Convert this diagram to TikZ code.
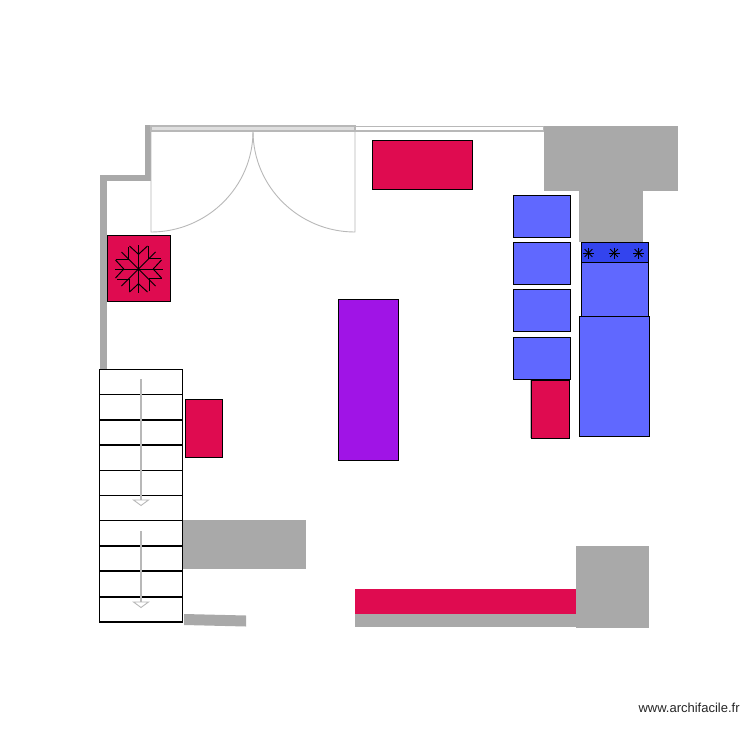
\documentclass[tikz,border=0pt]{standalone}
\usepackage{fontspec}
\setmainfont{Liberation Sans}
\definecolor{wallgray}{HTML}{A9A9A9}
\definecolor{doorgray}{HTML}{B8B8B8}
\definecolor{furnred}{HTML}{DF0B50}
\definecolor{furnblue}{HTML}{6068FF}
\definecolor{hobblue}{HTML}{3344EE}
\definecolor{furnpurple}{HTML}{A014E6}
\tikzset{
  wall/.style={fill=wallgray,draw=none},
  furn/.style={draw=black,line width=0.45pt},
  door/.style={draw=doorgray,line width=0.5pt},
  stepbox/.style={draw=black,fill=white,line width=0.6pt},
  flake/.style={draw=black,line width=0.55pt},
}
\begin{document}
\begin{tikzpicture}[x=0.02cm,y=-0.02cm]
  \useasboundingbox[fill=white] (0,0) rectangle (750,750);

  % walls
  \draw[wallgray,line width=3.6pt] (103.5,370) -- (103.5,178) -- (148,178) -- (148,125);
  \fill[wall] (543.5,126) rectangle (678,191);
  \fill[wall] (578.5,191) rectangle (642.5,242);
  \fill[wall] (183,520) rectangle (305.5,568.5);
  \fill[wall] (184,614) -- (246,615.5) -- (246,626.5) -- (184,625) -- cycle;
  \fill[wall] (355,614) rectangle (576,626.5);
  \fill[furnred] (355,589) rectangle (576,614);
  \fill[wall] (576,546) rectangle (649,628);

  % door and window
  \draw[door,line width=0.7pt,fill=gray!25] (151,126) rectangle (355,131);
  \draw[door,line width=0.7pt] (355,126.5) rectangle (543.5,131);
  \draw[door] (151,131) -- (151,232) .. controls (207,232) and (253,187) .. (253,131);
  \draw[door] (355,131) -- (355,232) .. controls (299,232) and (253,187) .. (253,131);

  % furniture
  \draw[furn,fill=furnred] (372,140) rectangle (472,189);
  \draw[furn,fill=furnpurple] (338,299) rectangle (398,460);
  \draw[furn,fill=furnred] (185,399) rectangle (222.5,457.5);
  \draw[furn,fill=furnred] (531,380) rectangle (569.5,438);
  \draw[door,line width=0.6pt] (530.5,380) -- (530.5,438);
  \foreach \ytop in {195,242,289.5,337}
    \draw[furn,fill=furnblue] (513.5,\ytop) rectangle (570.5,\ytop+42);
  \draw[furn,fill=furnblue] (581,262) rectangle (648,316);
  \draw[furn,fill=furnblue] (579.5,316) rectangle (649.5,436);
  \draw[furn,fill=hobblue] (581,242) rectangle (648,262);
  \foreach \xhob in {588.5,614,638.5}
    \foreach \ang in {0,45,90,135}
      \draw[flake,shift={(\xhob,253)},rotate=\ang] (0,-5.5) -- (0,5.5);

  % freezer
  \draw[furn,fill=furnred] (107,235.5) rectangle (170,301);
  \foreach \ang in {0,90,180,270} {
    \begin{scope}[shift={(138.5,269)},rotate=\ang]
      \draw[flake] (0,0) -- (0,-24);
      \draw[flake] (-9,-23) -- (0,-14.7) -- (9,-23);
      \draw[flake] (0,0) -- (17,-17);
      \draw[flake] (9.5,-23) -- (9.5,-10.5) -- (22,-10.5);
    \end{scope}
  }

  % stairs
  \foreach \ytop/\ybot in {369.5/394.7,394.7/420,420/445,445/470.5,470.5/495.5,495.5/520.5,520.5/546,546/571,571/597,597/622}
    \draw[stepbox] (99.5,\ytop) rectangle (182.5,\ybot);
  \draw[doorgray,line width=0.7pt] (141,379) -- (141,500);
  \draw[door] (133.5,500) -- (148.5,500) -- (141,505.5) -- cycle;
  \draw[doorgray,line width=0.7pt] (141,531) -- (141,602);
  \draw[door] (133.5,602) -- (148.5,602) -- (141,607.5) -- cycle;

  \node[font=\fontsize{7.4pt}{9pt}\selectfont,text=black!85,anchor=east,inner sep=0pt] (credit) at (740,708) {www.archifacile.fr};
\end{tikzpicture}
\end{document}
